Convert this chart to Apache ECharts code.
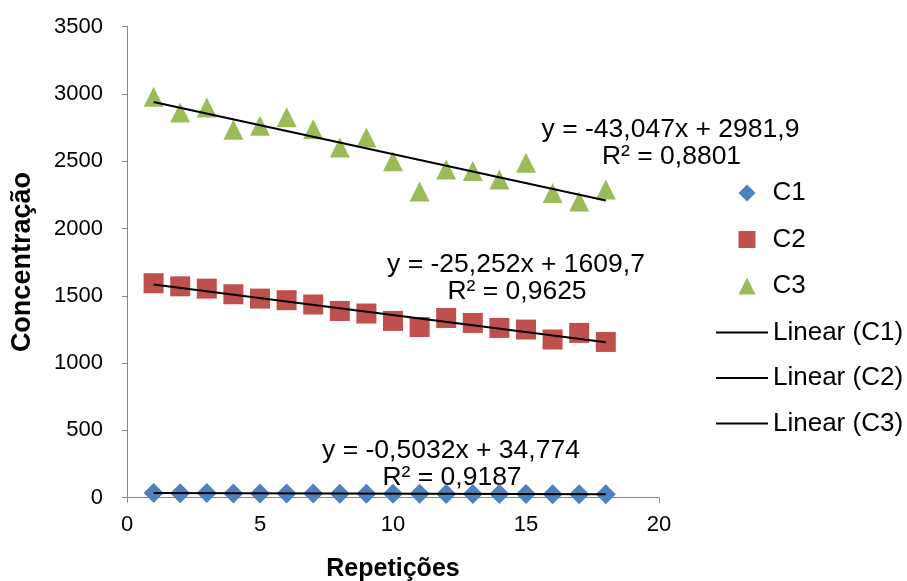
<!DOCTYPE html>
<html><head><meta charset="utf-8">
<script src="https://cdn.jsdelivr.net/npm/echarts@6/dist/echarts.min.js"></script>
<style>html,body{margin:0;padding:0;background:#fff}#c{width:907px;height:581px}</style>
</head><body><div id="c"></div>
<script>
const repeticoes = [1,2,3,4,5,6,7,8,9,10,11,12,13,14,15,16,17,18];
const c1 = [35,33,34,32,32,31,31,30,30,30,29,28,28,27,27,26,26,25];
const c2 = [1593,1570,1553,1511,1479,1467,1435,1387,1368,1313,1268,1335,1298,1261,1249,1175,1224,1157];
const c3 = [2978,2861,2898,2734,2762,2826,2737,2601,2676,2500,2275,2438,2426,2364,2488,2263,2201,2290];
const trendSlope = [-0.5032, -25.252, -43.047];
const trendIntercept = [34.774, 1609.7, 2981.9];
const trendR2 = ['0,9187','0,9625','0,8801'];
const eqText = ['y = -0,5032x + 34,774','y = -25,252x + 1609,7','y = -43,047x + 2981,9'];
const yTicks = [0,500,1000,1500,2000,2500,3000,3500];
const xTicks = [0,5,10,15,20];

const font = 'Liberation Sans, Arial, sans-serif';
const colors = ['#4F81BD','#C0504D','#9BBB59'];
const pts = s => repeticoes.map((x,i)=>[x,s[i]]);
const trend = k => {
  const x0 = repeticoes[0], x1 = repeticoes[repeticoes.length-1];
  return [[x0, trendSlope[k]*x0+trendIntercept[k]],[x1, trendSlope[k]*x1+trendIntercept[k]]];
};
const chart = echarts.init(document.getElementById('c'));
const eqPos = [[451,451],[516,265],[670.5,130]];
const graphics = [];
for (let k=0;k<3;k++){
  graphics.push({type:'text', style:{text:eqText[k], font:'26.5px '+font, fill:'#000', align:'center', verticalAlign:'middle', x:eqPos[k][0], y:eqPos[k][1]}});
  graphics.push({type:'text', style:{text:'R² = '+trendR2[k], font:'26.5px '+font, fill:'#000', align:'center', verticalAlign:'middle', x:eqPos[k][0]+1, y:eqPos[k][1]+27}});
}
chart.setOption({
  animation:false,
  backgroundColor:'#fff',
  grid:{left:127, right:248, top:26.5, bottom:83.3, containLabel:false, outerBoundsMode:'none'},
  xAxis:{type:'value', min:xTicks[0], max:xTicks[xTicks.length-1], interval:xTicks[1]-xTicks[0],
    name:'Repetições', nameLocation:'middle', nameGap:59,
    nameTextStyle:{fontFamily:font, fontSize:25, fontWeight:'bold', color:'#000'},
    axisLine:{lineStyle:{color:'#868686', width:1}},
    axisTick:{show:true, length:5, lineStyle:{color:'#868686'}},
    axisLabel:{fontFamily:font, fontSize:22, color:'#000', margin:16, formatter:v=>String(v)},
    splitLine:{show:false}},
  yAxis:{type:'value', min:yTicks[0], max:yTicks[yTicks.length-1], interval:yTicks[1]-yTicks[0],
    name:'Concentração', nameLocation:'middle', nameGap:91, nameRotate:90,
    nameTextStyle:{fontFamily:font, fontSize:27, fontWeight:'bold', color:'#000'},
    axisLine:{show:true, lineStyle:{color:'#868686', width:1}},
    axisTick:{show:true, length:5, lineStyle:{color:'#868686'}},
    axisLabel:{fontFamily:font, fontSize:22, color:'#000', margin:24, formatter:v=>String(v)},
    splitLine:{show:false}},
  legend:[
    {orient:'vertical', left:733.5, top:175, itemWidth:17, itemHeight:17, itemGap:20.5,
     textStyle:{fontFamily:font, fontSize:26, color:'#000', padding:[0,0,0,12]},
     data:[{name:'C1',icon:'diamond'},{name:'C2',icon:'rect'},{name:'C3',icon:'triangle'}]},
    {orient:'vertical', left:711, top:314.5, itemWidth:52, itemHeight:2, itemGap:19.5,
     textStyle:{fontFamily:font, fontSize:26, color:'#000', padding:[0,0,0,0]},
     data:[{name:'Linear (C1)',icon:'rect'},{name:'Linear (C2)',icon:'rect'},{name:'Linear (C3)',icon:'rect'}]}
  ],
  graphic:graphics,
  series:[
    {name:'C1', type:'scatter', data:pts(c1), symbol:'diamond', symbolSize:20, itemStyle:{color:colors[0], opacity:1}, z:3},
    {name:'C2', type:'scatter', data:pts(c2), symbol:'rect', symbolSize:20, itemStyle:{color:colors[1], opacity:1}, z:3},
    {name:'C3', type:'scatter', data:pts(c3), symbol:'triangle', symbolSize:20, itemStyle:{color:colors[2], opacity:1}, z:3},
    {name:'Linear (C1)', type:'line', data:trend(0), symbol:'none', lineStyle:{color:'#000', width:2}, itemStyle:{color:'#000'}, z:4},
    {name:'Linear (C2)', type:'line', data:trend(1), symbol:'none', lineStyle:{color:'#000', width:2}, itemStyle:{color:'#000'}, z:4},
    {name:'Linear (C3)', type:'line', data:trend(2), symbol:'none', lineStyle:{color:'#000', width:2}, itemStyle:{color:'#000'}, z:4}
  ]
});
</script></body></html>
